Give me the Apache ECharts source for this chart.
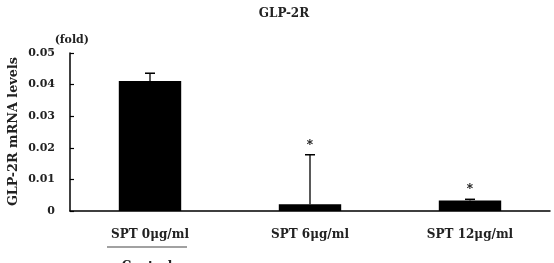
<!DOCTYPE html>
<html><head><meta charset="utf-8">
<script src="https://cdn.jsdelivr.net/npm/echarts@6/dist/echarts.min.js"></script>
<style>html,body{margin:0;padding:0;background:#fff}#c{width:554px;height:263px}</style>
</head><body><div id="c"></div>
<script>
var categories = ['SPT 0μg/ml', 'SPT 6μg/ml', 'SPT 12μg/ml'];
var values = [0.0411, 0.0021, 0.0033];
var errors = [0.0025, 0.0157, 0.0004];
var marks = ['', '*', '*'];
var yTicks = [0, 0.01, 0.02, 0.03, 0.04, 0.05];

var font = '"DejaVu Serif", "Liberation Serif", serif';
var chart = echarts.init(document.getElementById('c'));
chart.setOption({
  animation: false,
  backgroundColor: '#fff',
  title: { text: 'GLP-2R', left: 279, top: 3, textAlign: 'center',
    textStyle: { fontFamily: font, fontSize: 12, fontWeight: 'bold', color: '#222' } },
  grid: { left: 70, right: 4, top: 53, bottom: 52 },
  xAxis: {
    type: 'category', data: categories, boundaryGap: true,
    axisLine: { lineStyle: { color: '#000', width: 1.5 } },
    axisTick: { inside: true, length: 5, lineStyle: { color: '#000', width: 1.2 } },
    axisLabel: { margin: 18, fontFamily: font, fontSize: 12, fontWeight: 'bold', color: '#222' }
  },
  yAxis: {
    type: 'value', min: 0, max: 0.05, interval: 0.01,
    name: '(fold)', nameLocation: 'end', nameGap: 7,
    nameTextStyle: { fontFamily: font, fontSize: 11, fontWeight: 'bold', color: '#222', align: 'right', padding: [0, -19, 0, 0] },
    axisLine: { show: true, lineStyle: { color: '#000', width: 1.5 } },
    axisTick: { show: true, inside: true, length: 4, lineStyle: { color: '#000', width: 1.2 } },
    splitLine: { show: false },
    axisLabel: { margin: 15, fontFamily: font, fontSize: 11, fontWeight: 'bold', color: '#222',
      formatter: function (v) { return v === 0 ? '0' : v.toFixed(2); } }
  },
  series: [
    { type: 'bar', data: values, barWidth: '39%', itemStyle: { color: '#000' } },
    { type: 'custom', z: 5,
      data: values.map(function (v, i) { return [i, v, v + errors[i], marks[i]]; }),
      renderItem: function (params, api) {
        var x = api.coord([api.value(0), 0])[0];
        var p0 = api.coord([api.value(0), api.value(1)]);
        var p1 = api.coord([api.value(0), api.value(2)]);
        var cw = 5;
        var ch = [
          { type: 'line', shape: { x1: x, y1: p0[1], x2: x, y2: p1[1] }, style: { stroke: '#000', lineWidth: 1.3 } },
          { type: 'line', shape: { x1: x - cw, y1: p1[1], x2: x + cw, y2: p1[1] }, style: { stroke: '#000', lineWidth: 1.5 } }
        ];
        var m = marks[params.dataIndex];
        if (m) ch.push({ type: 'text', style: { text: m, x: x, y: p1[1] - 3, align: 'center', verticalAlign: 'bottom',
          font: 'bold 12px ' + font, fill: '#000' } });
        return { type: 'group', children: ch };
      }
    }
  ],
  graphic: [
    { type: 'text', left: 7, top: 57, rotation: Math.PI / 2,
      style: { text: 'GLP-2R mRNA levels', font: 'bold 12.8px ' + font, fill: '#222' } },
    { type: 'line', shape: { x1: 107, y1: 247, x2: 187, y2: 247 }, style: { stroke: '#444', lineWidth: 1.2 } },
    { type: 'text', x: 147, y: 261, style: { text: 'Control', align: 'center', verticalAlign: 'top', font: 'bold 12px ' + font, fill: '#222' } }
  ]
});
</script></body></html>
